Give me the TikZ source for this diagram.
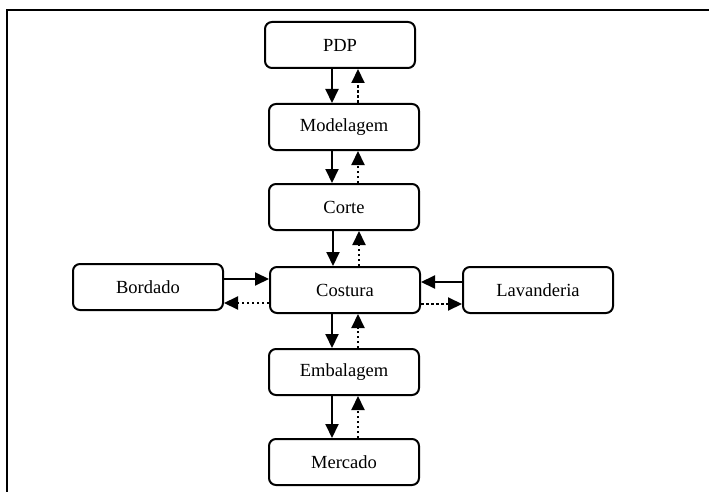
\documentclass[tikz,border=0pt]{standalone}
\usepackage{fontspec}
\setmainfont{Liberation Serif}
\usetikzlibrary{arrows.meta}

\tikzset{
  etapa/.style={draw, line width=2pt, rounded corners=7pt, minimum width=150pt, minimum height=46pt, inner sep=0pt, font=\fontsize{18.5}{20}\selectfont},
  fluxo/.style={line width=2pt, -{Triangle[length=14pt,width=13pt]}},
  retorno/.style={fluxo, dash pattern=on 2.5pt off 2.5pt}
}

\begin{document}
\begin{tikzpicture}[x=1pt,y=1pt,yscale=-1]
\useasboundingbox (0,0) rectangle (709,492);

%Straight Lines [frame]
\draw [line width=2.2pt] (7,492) -- (7,10) -- (709,10) ;

% Boxes
\node [etapa] (pdp) at (340,45) {PDP};
\node [etapa] (mod) at (344,127) {Modelagem};
\node [etapa] (cor) at (344,207) {Corte};
\node [etapa] (cos) at (345,290) {Costura};
\node [etapa] (emb) at (344,372) {Embalagem};
\node [etapa] (mer) at (344,462) {Mercado};
\node [etapa] (bor) at (148,287) {Bordado};
\node [etapa] (lav) at (538,290) {Lavanderia};

% Vertical arrows
\foreach \a/\b in {pdp/mod, mod/cor, cor/cos, cos/emb, emb/mer}{
  \draw [fluxo] ([xshift=-12pt]\b.north |- \a.south) -- ([xshift=-12pt]\b.north) ;
  \draw [retorno] ([xshift=14pt]\b.north) -- ([xshift=14pt]\b.north |- \a.south) ;
}

% Side arrows
\draw [fluxo] ([yshift=-11pt]bor.east |- cos.west) -- ([yshift=-11pt]cos.west) ;
\draw [retorno] ([yshift=13pt]cos.west) -- ([yshift=13pt]bor.east |- cos.west) ;
\draw [fluxo] ([yshift=-8pt]lav.west) -- ([yshift=-8pt]cos.east) ;
\draw [retorno] ([yshift=14pt]cos.east) -- ([yshift=14pt]lav.west) ;

\end{tikzpicture}
\end{document}
